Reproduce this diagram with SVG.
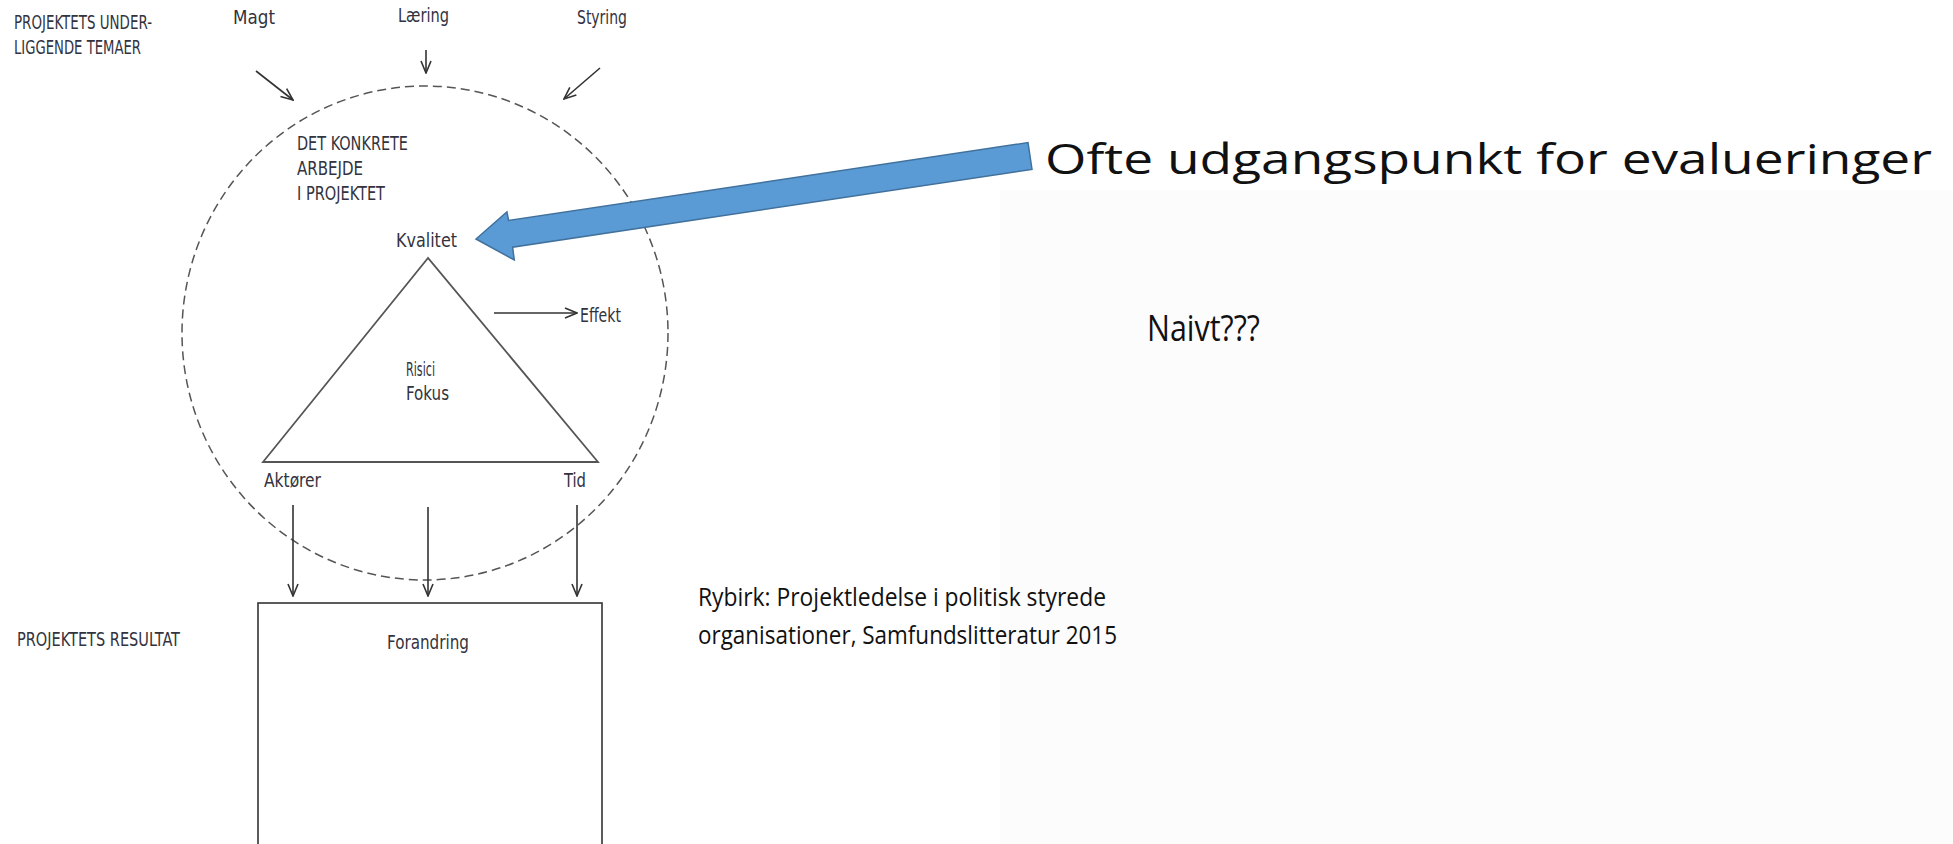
<svg xmlns="http://www.w3.org/2000/svg" width="1953" height="844" viewBox="0 0 1953 844">
<defs>
<style>
.lbl{font-family:"Liberation Sans Narrow","DejaVu Sans Condensed","Liberation Sans",sans-serif;font-size:19px;fill:#333340;}
.note{font-family:"Open Sans","Noto Sans","Liberation Sans",sans-serif;fill:#111;}
.ln{stroke:#333;stroke-width:1.6;fill:none;}
</style>
<marker id="arr" viewBox="0 0 14 12" refX="13" refY="6" markerWidth="14" markerHeight="12" markerUnits="userSpaceOnUse" orient="auto">
<path d="M1,1 L13,6 L1,11" fill="none" stroke="#333" stroke-width="1.6"/>
</marker>
</defs>
<rect x="0" y="0" width="1953" height="844" fill="#ffffff"/>
<rect x="1000" y="190" width="953" height="654" fill="#fcfcfc"/>

<g id="header-labels">
<text class="lbl" x="14" y="29" textLength="138" lengthAdjust="spacingAndGlyphs">PROJEKTETS UNDER-</text>
<text class="lbl" x="14" y="54" textLength="127" lengthAdjust="spacingAndGlyphs">LIGGENDE TEMAER</text>
<text class="lbl" x="17" y="646" textLength="163" lengthAdjust="spacingAndGlyphs">PROJEKTETS RESULTAT</text>
</g>

<g id="themes">
<text class="lbl" x="233" y="24" textLength="42" lengthAdjust="spacingAndGlyphs">Magt</text>
<text class="lbl" x="398" y="22" textLength="51" lengthAdjust="spacingAndGlyphs">Læring</text>
<text class="lbl" x="577" y="24" textLength="50" lengthAdjust="spacingAndGlyphs">Styring</text>
</g>

<g id="project-circle">
<ellipse cx="425" cy="333" rx="243" ry="247" fill="none" stroke="#555" stroke-width="1.5" stroke-dasharray="9,5"/>
<text class="lbl" x="297" y="150" textLength="111" lengthAdjust="spacingAndGlyphs">DET KONKRETE</text>
<text class="lbl" x="297" y="175" textLength="66" lengthAdjust="spacingAndGlyphs">ARBEJDE</text>
<text class="lbl" x="297" y="200" textLength="88" lengthAdjust="spacingAndGlyphs">I PROJEKTET</text>
</g>

<g id="triangle">
<polygon points="428,258 263,462 598,462" fill="none" stroke="#555" stroke-width="1.8"/>
<text class="lbl" x="396" y="247" textLength="61" lengthAdjust="spacingAndGlyphs">Kvalitet</text>
<text class="lbl" x="406" y="376" textLength="29" lengthAdjust="spacingAndGlyphs">Risici</text>
<text class="lbl" x="406" y="400" textLength="43" lengthAdjust="spacingAndGlyphs">Fokus</text>
<text class="lbl" x="264" y="487" textLength="57" lengthAdjust="spacingAndGlyphs">Aktører</text>
<text class="lbl" x="564" y="487" textLength="22" lengthAdjust="spacingAndGlyphs">Tid</text>
</g>

<g id="effekt">
<text class="lbl" x="580" y="322" textLength="41" lengthAdjust="spacingAndGlyphs">Effekt</text>
</g>

<g id="forandring">
<rect x="258" y="603" width="344" height="260" fill="none" stroke="#333" stroke-width="1.6"/>
<text class="lbl" x="387" y="649" textLength="82" lengthAdjust="spacingAndGlyphs">Forandring</text>
</g>

<g id="connectors">
<line class="ln" x1="256" y1="71" x2="293" y2="100" marker-end="url(#arr)"/>
<line class="ln" x1="426" y1="50" x2="426" y2="73" marker-end="url(#arr)"/>
<line class="ln" x1="600" y1="68" x2="564" y2="99" marker-end="url(#arr)"/>
<line class="ln" x1="494" y1="313" x2="577" y2="313" marker-end="url(#arr)"/>
<line class="ln" x1="293" y1="505" x2="293" y2="596" marker-end="url(#arr)"/>
<line class="ln" x1="428" y1="507" x2="428" y2="596" marker-end="url(#arr)"/>
<line class="ln" x1="577" y1="505" x2="577" y2="596" marker-end="url(#arr)"/>
<polygon points="1028,142.6 1032,169.4 512.6,247.2 514.3,260 476,239 506.9,212 508.6,220.4" fill="#5b9bd5" stroke="#41719c" stroke-width="1.5" stroke-linejoin="miter"/>
</g>

<g id="annotations">
<text class="note" x="1045" y="174" font-size="42" textLength="887" lengthAdjust="spacingAndGlyphs">Ofte udgangspunkt for evalueringer</text>
<text class="note" x="1147" y="341" font-size="37" textLength="113" lengthAdjust="spacingAndGlyphs">Naivt???</text>
<text class="note" x="698" y="606" font-size="25" textLength="408" lengthAdjust="spacingAndGlyphs">Rybirk: Projektledelse i politisk styrede</text>
<text class="note" x="698" y="644" font-size="25" textLength="419" lengthAdjust="spacingAndGlyphs">organisationer, Samfundslitteratur 2015</text>
</g>
</svg>
